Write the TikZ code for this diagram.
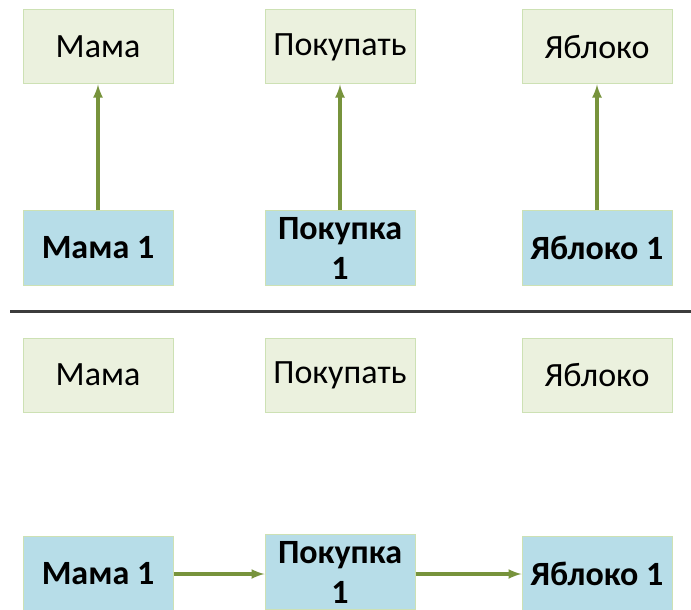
\documentclass[tikz,border=0pt]{standalone}
\usepackage{fontspec}
\setmainfont{Carlito}
\usepackage{tikz}
\definecolor{olivgruen}{RGB}{119,147,60}
\definecolor{hellgruen}{RGB}{235,241,222}
\definecolor{randgruen}{RGB}{205,225,180}
\definecolor{hellblau}{RGB}{183,221,232}
\definecolor{trenngrau}{RGB}{60,60,60}
\usetikzlibrary{arrows}

\begin{document}
\begin{tikzpicture}[x=1pt, y=-1pt,
        >=latex,   %Voreinstellung für Pfeilspitzen
        wort/.style={draw=randgruen, fill=hellgruen, line width=1pt, minimum width=150pt, minimum height=74pt, inner sep=0pt, font=\fontsize{34}{40}\selectfont},
        token/.style={draw=randgruen, fill=hellblau, line width=1pt, minimum width=150pt, minimum height=75pt, inner sep=0pt, align=center, font=\fontsize{34}{40}\selectfont\bfseries},
        pfeil/.style={->, olivgruen, line width=3.4pt}]
        %Bildbereich
        \useasboundingbox (0,0) rectangle (691,610);
        % oberer Teil: Woerter
        \node[wort] (mama) at (98,47) {Мама};
        \node[wort] (kaufen) at (340,47) {Покупать};
        \node[wort] (apfel) at (597,47) {Яблоко};
        % oberer Teil: Tokens
        \node[token] (mamaA) at (98,248) {Мама 1};
        \node[token] (kaufA) at (340,248) {Покупка\\1};
        \node[token] (apfelA) at (597,248) {Яблоко 1};
        % Pfeile nach oben
        \draw[pfeil] (mamaA) -- (mama);
        \draw[pfeil] (kaufA) -- (kaufen);
        \draw[pfeil] (apfelA) -- (apfel);
        % Trennlinie
        \draw[trenngrau, line width=3pt] (10,311) -- (691,311);
        % unterer Teil: Woerter
        \node[wort] (mamaW) at (98,375) {Мама};
        \node[wort] (kaufenW) at (340,375) {Покупать};
        \node[wort] (apfelW) at (597,375) {Яблоко};
        % unterer Teil: Tokens
        \node[token] (mamaB) at (98,574) {Мама 1};
        \node[token] (kaufB) at (340,572) {Покупка\\1};
        \node[token] (apfelB) at (597,574) {Яблоко 1};
        % Pfeile nach rechts
        \draw[pfeil] (mamaB) -- (mamaB -| kaufB.west);
        \draw[pfeil] (kaufB.east |- mamaB) -- (apfelB);
    \end{tikzpicture}
\end{document}
